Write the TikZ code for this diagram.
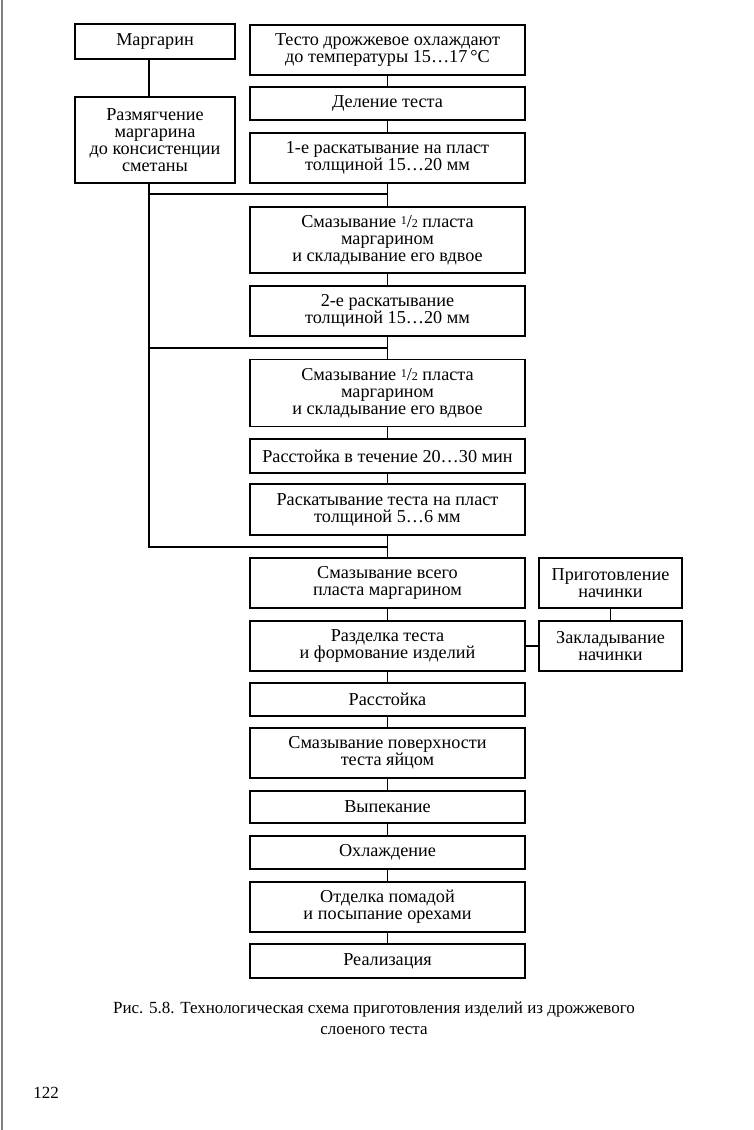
\documentclass[tikz,border=0pt]{standalone}
\usepackage{fontspec}
\setmainfont{Liberation Serif}
\newcommand{\halffrac}{{\fontsize{12}{12}\selectfont\raisebox{0.55ex}{1}}/{\fontsize{12}{12}\selectfont\raisebox{-0.1ex}{2}}}
\begin{document}
\begin{tikzpicture}[x=1pt,y=-1pt,
  box/.style={draw, line width=1.3pt, align=center, inner sep=0pt, font=\fontsize{18.2}{17}\selectfont},
  conn/.style={line width=1.3pt},
  txt/.style={align=center, inner sep=0pt, font=\fontsize{17}{21}\selectfont}]
\useasboundingbox (0,0) rectangle (753,1130);
\fill[white] (0,0) rectangle (753,1130);
\draw[gray, line width=1.5pt] (2,0) -- (2,1130);

% left column
\node[box, minimum width=160pt, minimum height=35pt] (marg) at (155,41.5) {Маргарин};
\node[box, minimum width=160pt, minimum height=86pt] (razm) at (155,140) {Размягчение\\маргарина\\до консистенции\\сметаны};

% main column
\node[box, minimum width=275pt, minimum height=50pt] (t1) at (387.5,50) {Тесто дрожжевое охлаждают\\до температуры 15…17\,°С};
\node[box, minimum width=275pt, minimum height=33pt] (t2) at (387.5,103.5) {Деление теста};
\node[box, minimum width=275pt, minimum height=50pt] (t3) at (387.5,158) {1-е раскатывание на пласт\\толщиной 15…20 мм};
\node[box, minimum width=275pt, minimum height=66pt] (t4) at (387.5,240) {Смазывание \halffrac{} пласта\\маргарином\\и складывание его вдвое};
\node[box, minimum width=275pt, minimum height=50pt] (t5) at (387.5,311) {2-е раскатывание\\толщиной 15…20 мм};
\node[box, minimum width=275pt, minimum height=67pt] (t6) at (387.5,393) {Смазывание \halffrac{} пласта\\маргарином\\и складывание его вдвое};
\node[box, minimum width=275pt, minimum height=34pt] (t7) at (387.5,456) {Расстойка в течение 20…30 мин};
\node[box, minimum width=275pt, minimum height=51pt] (t8) at (387.5,509.5) {Раскатывание теста на пласт\\толщиной 5…6 мм};
\node[box, minimum width=275pt, minimum height=50pt] (t9) at (387.5,583) {Смазывание всего\\пласта маргарином};
\node[box, minimum width=275pt, minimum height=50pt] (t10) at (387.5,646) {Разделка теста\\и формование изделий};
\node[box, minimum width=275pt, minimum height=33pt] (t11) at (387.5,699.5) {Расстойка};
\node[box, minimum width=275pt, minimum height=50pt] (t12) at (387.5,753) {Смазывание поверхности\\теста яйцом};
\node[box, minimum width=275pt, minimum height=32pt] (t13) at (387.5,807) {Выпекание};
\node[box, minimum width=275pt, minimum height=33pt] (t14) at (387.5,852.5) {Охлаждение};
\node[box, minimum width=275pt, minimum height=50pt] (t15) at (387.5,907) {Отделка помадой\\и посыпание орехами};
\node[box, minimum width=275pt, minimum height=34pt] (t16) at (387.5,961) {Реализация};

% right column
\node[box, minimum width=143pt, minimum height=50pt] (prig) at (610.5,583) {Приготовление\\начинки};
\node[box, minimum width=143pt, minimum height=50pt] (zakl) at (610.5,646) {Закладывание\\начинки};

% connectors main column
\foreach \a/\b in {t1/t2,t2/t3,t3/t4,t4/t5,t5/t6,t6/t7,t7/t8,t8/t9,t9/t10,t10/t11,t11/t12,t12/t13,t13/t14,t14/t15,t15/t16}
  \draw[conn] (\a.south) -- (\b.north);

% junctions
\coordinate (j1) at (387.5,194);
\coordinate (j2) at (387.5,348);
\coordinate (j3) at (387.5,547);
\coordinate (L) at ([xshift=-6pt]razm.south);
\coordinate (Lm) at ([xshift=-6pt]marg.south);

\draw[conn] (Lm) -- (Lm |- razm.north);
\draw[conn] (L) |- (j3);
\draw[conn] (L |- j1) -- (j1);
\draw[conn] (L |- j2) -- (j2);

% right connectors
\draw[conn] (prig.south) -- (zakl.north);
\draw[conn] (zakl.west) -- (t10.east);

% caption
\node[txt] (cap) at (374,1018) {Рис. 5.8. Технологическая схема приготовления изделий из дрожжевого\\слоеного теста};
\node[txt] (page) at (46,1093) {122};
\end{tikzpicture}
\end{document}
